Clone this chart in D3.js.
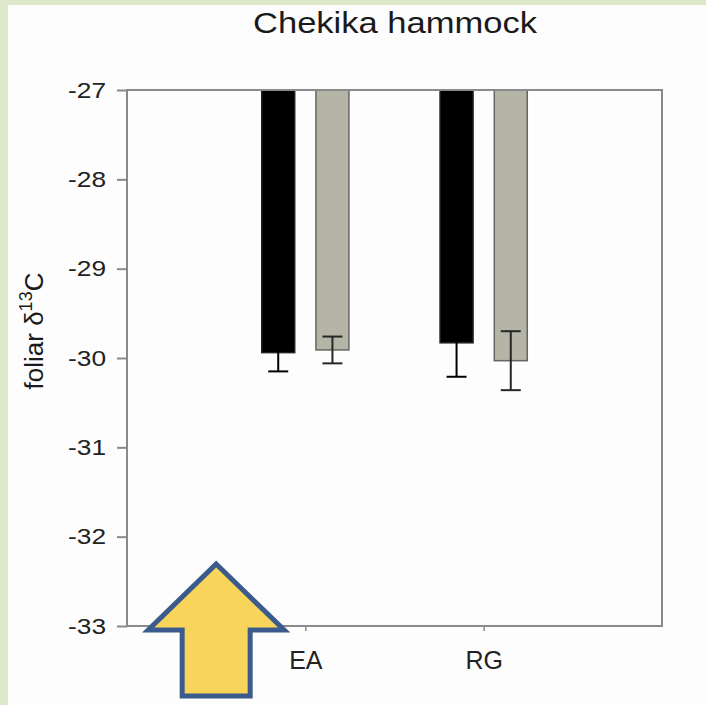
<!DOCTYPE html>
<html lang="en">
<head>
    <meta charset="UTF-8">
    <title>Chekika hammock</title>
    <script src="https://d3js.org/d3.v7.min.js"></script>
    <style>
        html, body { margin: 0; padding: 0; background: #fdfdfd; }
        svg { display: block; font-family: "Liberation Sans", Arial, sans-serif; }
    </style>
</head>
<body>
    <svg width="706" height="705"></svg>

    <script>
        // Data
        const categories = ["EA", "RG"];
        const seriesNames = ["dark", "light"];
        const means = [[-29.94, -29.91], [-29.83, -30.03]];
        const errors = [[0.21, 0.15], [0.38, 0.33]];
        const yTicks = [-27, -28, -29, -30, -31, -32, -33];

        const svg = d3.select("svg");

        // green page edge
        svg.append("rect").attr("x", 0).attr("y", 0).attr("width", 706).attr("height", 705).attr("fill", "#dde7c9");
        svg.append("rect").attr("x", 8).attr("y", 5).attr("width", 698).attr("height", 700).attr("fill", "#fdfdfd");

        const pLeft = 127, pRight = 662, pTop = 90, pBottom = 626;

        const x = d3.scaleLinear().domain([0, categories.length + 1]).range([pLeft, pRight]);
        const y = d3.scaleLinear().domain([-33, -27]).range([pBottom, pTop]);

        const barW = 0.185;   // in category units
        const offset = 0.152;
        const colors = ["#000000", "#b4b4a7"];
        const strokes = ["#222222", "#666660"];
        const errColors = ["#000000", "#262626"];

        // title
        svg.append("text")
            .attr("x", 395).attr("y", 33)
            .attr("text-anchor", "middle")
            .attr("font-size", 30)
            .attr("textLength", 284).attr("lengthAdjust", "spacingAndGlyphs")
            .attr("fill", "#1a1a1a")
            .text("Chekika hammock");

        // bars + error bars
        const unit = x(1) - x(0);
        categories.forEach((c, i) => {
            seriesNames.forEach((s, j) => {
                const cx = x(i + 1) + (j === 0 ? -offset : offset) * unit;
                const w = barW * unit;
                svg.append("rect")
                    .attr("x", cx - w / 2)
                    .attr("y", y(-27))
                    .attr("width", w)
                    .attr("height", y(means[i][j]) - y(-27))
                    .attr("fill", colors[j])
                    .attr("stroke", strokes[j])
                    .attr("stroke-width", 1.5);

                const lo = means[i][j] - errors[i][j];
                const hi = means[i][j] + errors[i][j];
                const eb = svg.append("g").attr("stroke", errColors[j]).attr("stroke-width", 2);
                eb.append("line").attr("x1", cx).attr("x2", cx).attr("y1", y(hi)).attr("y2", y(lo));
                eb.append("line").attr("x1", cx - 10).attr("x2", cx + 10).attr("y1", y(lo)).attr("y2", y(lo));
                eb.append("line").attr("x1", cx - 10).attr("x2", cx + 10).attr("y1", y(hi)).attr("y2", y(hi));
            });
        });

        // frame
        svg.append("rect")
            .attr("x", pLeft).attr("y", pTop)
            .attr("width", pRight - pLeft).attr("height", pBottom - pTop)
            .attr("fill", "none").attr("stroke", "#8a8a8a").attr("stroke-width", 2);

        // y axis
        const yAxis = svg.append("g")
            .attr("transform", `translate(${pLeft},0)`)
            .call(d3.axisLeft(y).tickValues(yTicks).tickSize(10).tickPadding(11).tickFormat(d3.format("d")));
        yAxis.select(".domain").remove();
        yAxis.selectAll(".tick line").attr("stroke", "#8a8a8a").attr("stroke-width", 2);
        yAxis.selectAll(".tick text").attr("font-size", 22).attr("fill", "#222")
            .attr("font-family", "Liberation Sans, Arial, sans-serif")
            .attr("textLength", 38).attr("lengthAdjust", "spacingAndGlyphs")
            .text(d => "-" + Math.abs(d));

        // x axis
        const xAxis = svg.append("g")
            .attr("transform", `translate(0,${pBottom})`)
            .call(d3.axisBottom(x).tickValues([1, 2]).tickSize(5).tickPadding(20).tickFormat((d, i) => categories[i]));
        xAxis.select(".domain").remove();
        xAxis.selectAll(".tick line").attr("stroke", "#8a8a8a").attr("stroke-width", 1.5);
        xAxis.selectAll(".tick text").attr("font-size", 25).attr("fill", "#222")
            .attr("font-family", "Liberation Sans, Arial, sans-serif");

        // y label
        const yl = svg.append("text")
            .attr("transform", `translate(43,331) rotate(-90)`)
            .attr("text-anchor", "middle")
            .attr("font-size", 26)
            .attr("fill", "#1a1a1a");
        yl.append("tspan").text("foliar \u03b4");
        yl.append("tspan").attr("font-size", 18).attr("dy", -11).text("13");
        yl.append("tspan").attr("dy", 11).text("C");

        // arrow annotation
        const ax = x(0.5), ab = pBottom;
        const arrow = [
            [ax, ab - 62], [ax + 68, ab + 4], [ax + 34, ab + 4], [ax + 34, ab + 70],
            [ax - 34, ab + 70], [ax - 34, ab + 4], [ax - 68, ab + 4]
        ];
        svg.append("path")
            .attr("d", d3.line()(arrow) + "Z")
            .attr("fill", "#f9d45b")
            .attr("stroke", "#3a5b8c")
            .attr("stroke-width", 5)
            .attr("stroke-linejoin", "miter");
    </script>
</body>
</html>
